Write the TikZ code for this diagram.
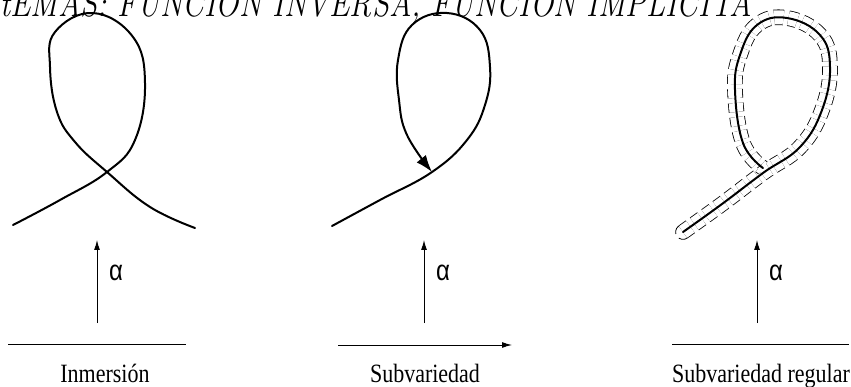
\documentclass[tikz,border=0pt]{standalone}
\usepackage{fontspec}
\newfontfamily\rotulofont{Liberation Serif}
\newfontfamily\alfafont{Liberation Sans}
\usetikzlibrary{calc, positioning, arrows.meta}
\newcommand{\alto}[1]{\scalebox{1}[1.2]{#1}}
\tikzset{
	curva/.style={line width=2pt, line cap=round},
	tubo/.style={line width=0.8pt, dash pattern=on 9pt off 5pt, double distance=14pt, line cap=butt},
	borde/.style={line width=0.8pt, dash pattern=on 9pt off 5pt},
	flecha/.style={line width=1pt, -{Latex[length=10pt,width=6pt]}},
	linea/.style={line width=1pt},
	rotulo/.style={font=\rotulofont\fontsize{22}{26}\selectfont, anchor=base, inner sep=0pt},
	alfa/.style={font=\alfafont\fontsize{24}{26}\selectfont, inner sep=0pt},
}

\begin{document}
\begin{tikzpicture}[x=1pt,y=-1pt]
	\useasboundingbox (0,0) rectangle (851,387);
	
	%cabecera
	\node[anchor=base west, inner sep=0pt, font=\itshape\fontsize{31}{34}\selectfont] (cabecera) at (0,17) {\alto{tEMAS: FUNCIÓN INVERSA, FUNCIÓN IMPLÍCITA}};
	
	%inmersion
	\draw [curva] plot [smooth, tension=0.7] coordinates {(13,225) (60,200) (107,172) (135,140) (145,83) (133,37) (93,13) (55,32) (50,67) (57,112) (75,142) (107,172) (150,207) (195,228)};
	\coordinate (b1) at (97,323);
	\coordinate (t1) at (97,240);
	\draw [flecha] (b1) -- (t1);
	\node [alfa, right=12pt of {$(b1)!0.6!(t1)$}] (a1) {\alto{α}};
	\coordinate (l1) at (8,344);
	\coordinate (r1) at (186,344);
	\draw [linea] (l1) -- (r1);
	\node [rotulo] (inmersion) at (105,382) {\alto{Inmersión}};
	
	%subvariedad
	\draw [curva, -{Latex[length=17pt,width=12pt]}] plot [smooth, tension=0.7] coordinates {(332,226) (380,200) (432,172) (467,140) (485,105) (490,67) (480,30) (447,13) (412,25) (398,60) (399,100) (407,135) (432,172)};
	\coordinate (b2) at (424,323);
	\coordinate (t2) at (424,240);
	\draw [flecha] (b2) -- (t2);
	\node [alfa, right=12pt of {$(b2)!0.6!(t2)$}] (a2) {\alto{α}};
	\coordinate (l2) at (338,345);
	\coordinate (r2) at (512,345);
	\draw [flecha] (l2) -- (r2);
	\node [rotulo] (subvariedad) at (425,382) {\alto{Subvariedad}};
	
	%subvariedad regular
	\draw [tubo] plot [smooth, tension=0.7] coordinates {(683,232) (722,204) (763,173) (800,147) (822,110) (830,67) (820,35) (787,18) (757,25) (740,55) (735,90) (743,143) (763,168)};
	\draw [borde] (678.7,226.0) arc [start angle=234.3, end angle=54.3, radius=7.4];
	\draw [curva] plot [smooth, tension=0.7] coordinates {(683,232) (722,204) (763,173) (800,147) (822,110) (830,67) (820,35) (787,18) (757,25) (740,55) (735,90) (743,143) (763,168)};
	\coordinate (b3) at (757,323);
	\coordinate (t3) at (757,240);
	\draw [flecha] (b3) -- (t3);
	\node [alfa, right=12pt of {$(b3)!0.6!(t3)$}] (a3) {\alto{α}};
	\coordinate (l3) at (672,344);
	\coordinate (r3) at (849,344);
	\draw [linea] (l3) -- (r3);
	\node [rotulo] (regular) at (761,382) {\alto{Subvariedad regular}};
	
\end{tikzpicture}
\end{document}
